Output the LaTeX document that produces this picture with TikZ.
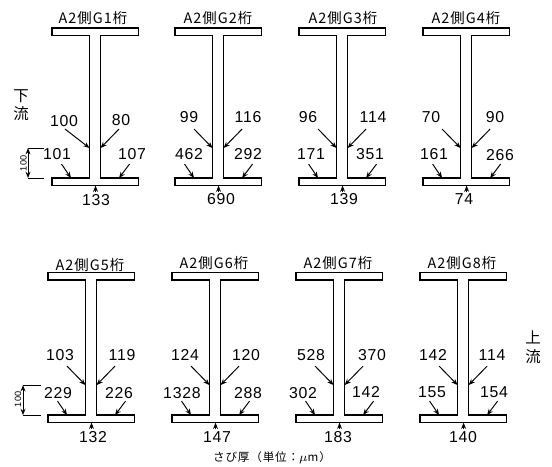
\documentclass[tikz,border=0pt]{standalone}
\usepackage{fontspec}
\setmainfont[LetterSpace=5]{Liberation Sans}
\newfontfamily\cjkfont[LetterSpace=7]{Noto Sans CJK JP}
\usetikzlibrary{arrows.meta}
\begin{document}
\begin{tikzpicture}[scale=0.02,
    beam/.style={black,line width=0.8pt},
    thinline/.style={black,line width=0.55pt},
    pointer/.style={thinline,-{Stealth[length=3.6pt,width=2.8pt]}},
    dimen/.style={thinline,{Stealth[length=3.6pt,width=2.8pt]}-{Stealth[length=3.6pt,width=2.8pt]}},
    val/.style={font=\fontsize{9}{10}\selectfont},
    small/.style={font=\fontsize{5.2}{6}\selectfont,rotate=90},
    girdername/.style={font=\fontsize{8.2}{9}\selectfont\cjkfont},
    flow/.style={font=\fontsize{8.8}{10.5}\selectfont\cjkfont,align=center}]
    \tikzstyle{every node}+=[inner sep=0pt]
    \useasboundingbox (0,0) rectangle (552,-466);
    % outlines and arrows, one girder each
    \foreach \g/\x/\y/\h/\s in {g1/52/-28/150/13,g2/175/-28/150/19,g3/299/-28/150/19,g4/423/-28/150/19,
                                g5/48/-272.5/142.5/19,g6/172/-272.5/142.5/19,g7/296/-272.5/142.5/19,g8/420/-272.5/142.5/19}{
        \draw [beam] (\x,\y) -- (\x+86.5,\y) -- (\x+86.5,\y-7.5) -- (\x+48.5,\y-7.5) -- (\x+48.5,\y-\h)
            -- (\x+86.5,\y-\h) -- (\x+86.5,\y-\h-7.5) -- (\x,\y-\h-7.5) -- (\x,\y-\h) -- (\x+37.5,\y-\h)
            -- (\x+37.5,\y-7.5) -- (\x,\y-7.5) -- cycle;
        \coordinate (\g a0) at (\x+\s,\y-\h+49);
        \coordinate (\g a1) at (\x+37.5,\y-\h+30);
        \coordinate (\g b0) at (\x+67,\y-\h+49);
        \coordinate (\g b1) at (\x+48.5,\y-\h+30);
        \coordinate (\g c0) at (\x+9.5,\y-\h+14);
        \coordinate (\g c1) at (\x+19,\y-\h);
        \coordinate (\g d0) at (\x+77.5,\y-\h+14);
        \coordinate (\g d1) at (\x+67,\y-\h);
        \coordinate (\g e0) at (\x+43.5,\y-\h-14);
        \coordinate (\g e1) at (\x+43.5,\y-\h-7.5);
        \draw [pointer] (\g a0) -- (\g a1);
        \draw [pointer] (\g b0) -- (\g b1);
        \draw [pointer] (\g c0) -- (\g c1);
        \draw [pointer] (\g d0) -- (\g d1);
        \draw [pointer] (\g e0) -- (\g e1);
    }
    % G1
    \node [girdername] (g1t) at (93,-18) {A2側G1桁};
    \node [val] (g1a) at (64,-121) {100};
    \node [val] (g1b) at (121,-120) {80};
    \node [val] (g1c) at (57,-154) {101};
    \node [val] (g1d) at (132,-154) {107};
    \node [val] (g1e) at (96,-200) {133};
    % G2
    \node [girdername] (g2t) at (218,-18) {A2側G2桁};
    \node [val] (g2a) at (189,-117) {99};
    \node [val] (g2b) at (248,-117) {116};
    \node [val] (g2c) at (189,-154) {462};
    \node [val] (g2d) at (248,-154) {292};
    \node [val] (g2e) at (221,-199) {690};
    % G3
    \node [girdername] (g3t) at (343,-18) {A2側G3桁};
    \node [val] (g3a) at (308,-117) {96};
    \node [val] (g3b) at (373,-117) {114};
    \node [val] (g3c) at (311,-154) {171};
    \node [val] (g3d) at (370,-154) {351};
    \node [val] (g3e) at (344,-199) {139};
    % G4
    \node [girdername] (g4t) at (466,-18) {A2側G4桁};
    \node [val] (g4a) at (431,-117) {70};
    \node [val] (g4b) at (495,-117) {90};
    \node [val] (g4c) at (434,-154) {161};
    \node [val] (g4d) at (500,-155) {266};
    \node [val] (g4e) at (464,-199) {74};
    % G5
    \node [girdername] (g5t) at (90,-265) {A2側G5桁};
    \node [val] (g5a) at (60,-355) {103};
    \node [val] (g5b) at (122,-355) {119};
    \node [val] (g5c) at (58,-393) {229};
    \node [val] (g5d) at (119,-393) {226};
    \node [val] (g5e) at (93,-437) {132};
    % G6
    \node [girdername] (g6t) at (214,-263) {A2側G6桁};
    \node [val] (g6a) at (185,-355) {124};
    \node [val] (g6b) at (246,-355) {120};
    \node [val] (g6c) at (182,-393) {1328};
    \node [val] (g6d) at (248,-393) {288};
    \node [val] (g6e) at (217,-437) {147};
    % G7
    \node [girdername] (g7t) at (338,-263) {A2側G7桁};
    \node [val] (g7a) at (311,-355) {528};
    \node [val] (g7b) at (372,-355) {370};
    \node [val] (g7c) at (303,-393) {302};
    \node [val] (g7d) at (366,-392) {142};
    \node [val] (g7e) at (338,-437) {183};
    % G8
    \node [girdername] (g8t) at (462,-263) {A2側G8桁};
    \node [val] (g8a) at (433,-355) {142};
    \node [val] (g8b) at (492,-355) {114};
    \node [val] (g8c) at (432,-392) {155};
    \node [val] (g8d) at (494,-392) {154};
    \node [val] (g8e) at (463,-437) {140};
    % 100 dimensions
    \coordinate (dima0) at (28,-148);
    \coordinate (dima1) at (44,-148);
    \coordinate (dima2) at (28,-178);
    \coordinate (dima3) at (44,-178);
    \draw [thinline] (dima0) -- (dima1);
    \draw [thinline] (dima2) -- (dima3);
    \draw [dimen] (dima0) -- (dima2);
    \node [small] (dima) at (23.5,-163) {100};
    \coordinate (dimb0) at (23,-385);
    \coordinate (dimb1) at (41,-385);
    \coordinate (dimb2) at (23,-415);
    \coordinate (dimb3) at (41,-415);
    \draw [thinline] (dimb0) -- (dimb1);
    \draw [thinline] (dimb2) -- (dimb3);
    \draw [dimen] (dimb0) -- (dimb2);
    \node [small] (dimb) at (18,-399) {100};
    % flow and caption
    \node [flow] (down) at (21,-105) {下\\流};
    \node [flow] (up) at (533,-347) {上\\流};
    \node [font=\fontsize{6.6}{8}\selectfont\cjkfont] (unit) at (272,-458) {さび厚\symbol{"FF08}単位\symbol{"FF1A}$\mu$m\symbol{"FF09}};
\end{tikzpicture}
\end{document}
